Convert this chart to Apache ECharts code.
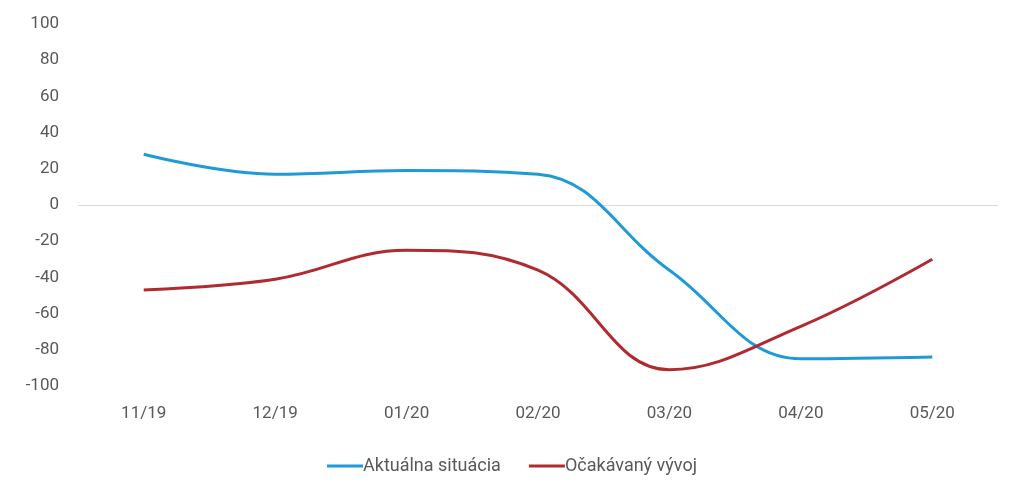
<!DOCTYPE html>
<html lang="sk">
<head>
    <meta charset="UTF-8">
    <title>Vývoj</title>
    <script src="https://cdn.jsdelivr.net/npm/echarts@6/dist/echarts.min.js"></script>
    <style>
        html, body { margin: 0; padding: 0; background: #fff; }
        #main { width: 1024px; height: 490px; }
    </style>
</head>
<body>
<div id="main"></div>
<script>
    // mesiace na osi x
    let months = ['11/19', '12/19', '01/20', '02/20', '03/20', '04/20', '05/20'];
    // hodnoty odčítané z grafu
    let actual = [28, 17, 19, 17, -36, -85, -84];
    let expected = [-47, -41, -25, -36, -91, -67, -30];
    let seriesNames = ['Aktuálna situácia', 'Očakávaný vývoj'];

    // čiara len pri nule
    let splitColors = [];
    for (let v = -100; v <= 100; v += 20) {
        splitColors.push(v === 0 ? '#d9d9d9' : 'rgba(0,0,0,0)');
    }

    let myChart = echarts.init(document.getElementById('main'));
    let option = {
        animation: false,
        textStyle: { fontFamily: 'Roboto' },
        color: ['#1e9ad9', '#b02a30'],
        grid: {
            left: 78,
            right: 26,
            top: 24,
            bottom: 104
        },
        legend: {
            bottom: 10,
            left: 'center',
            itemWidth: 36,
            itemHeight: 3,
            itemGap: 28,
            icon: 'rect',
            data: seriesNames,
            textStyle: { color: '#595959', fontSize: 18, padding: [0, 0, 0, -5] }
        },
        xAxis: {
            type: 'category',
            data: months,
            boundaryGap: true,
            axisLine: { show: false },
            axisTick: { show: false },
            axisLabel: { color: '#595959', fontSize: 17, margin: 19 }
        },
        yAxis: {
            type: 'value',
            min: -100,
            max: 100,
            interval: 20,
            axisLine: { show: false },
            axisTick: { show: false },
            axisLabel: { color: '#595959', fontSize: 17, margin: 19 },
            splitLine: { show: true, lineStyle: { color: splitColors, width: 1 } }
        },
        series: [
            {
                name: seriesNames[0],
                type: 'line',
                smooth: 0.4,
                symbol: 'none',
                lineStyle: { width: 3 },
                data: actual
            },
            {
                name: seriesNames[1],
                type: 'line',
                smooth: 0.4,
                symbol: 'none',
                lineStyle: { width: 3 },
                data: expected
            }
        ]
    };
    myChart.setOption(option);
</script>
</body>
</html>
